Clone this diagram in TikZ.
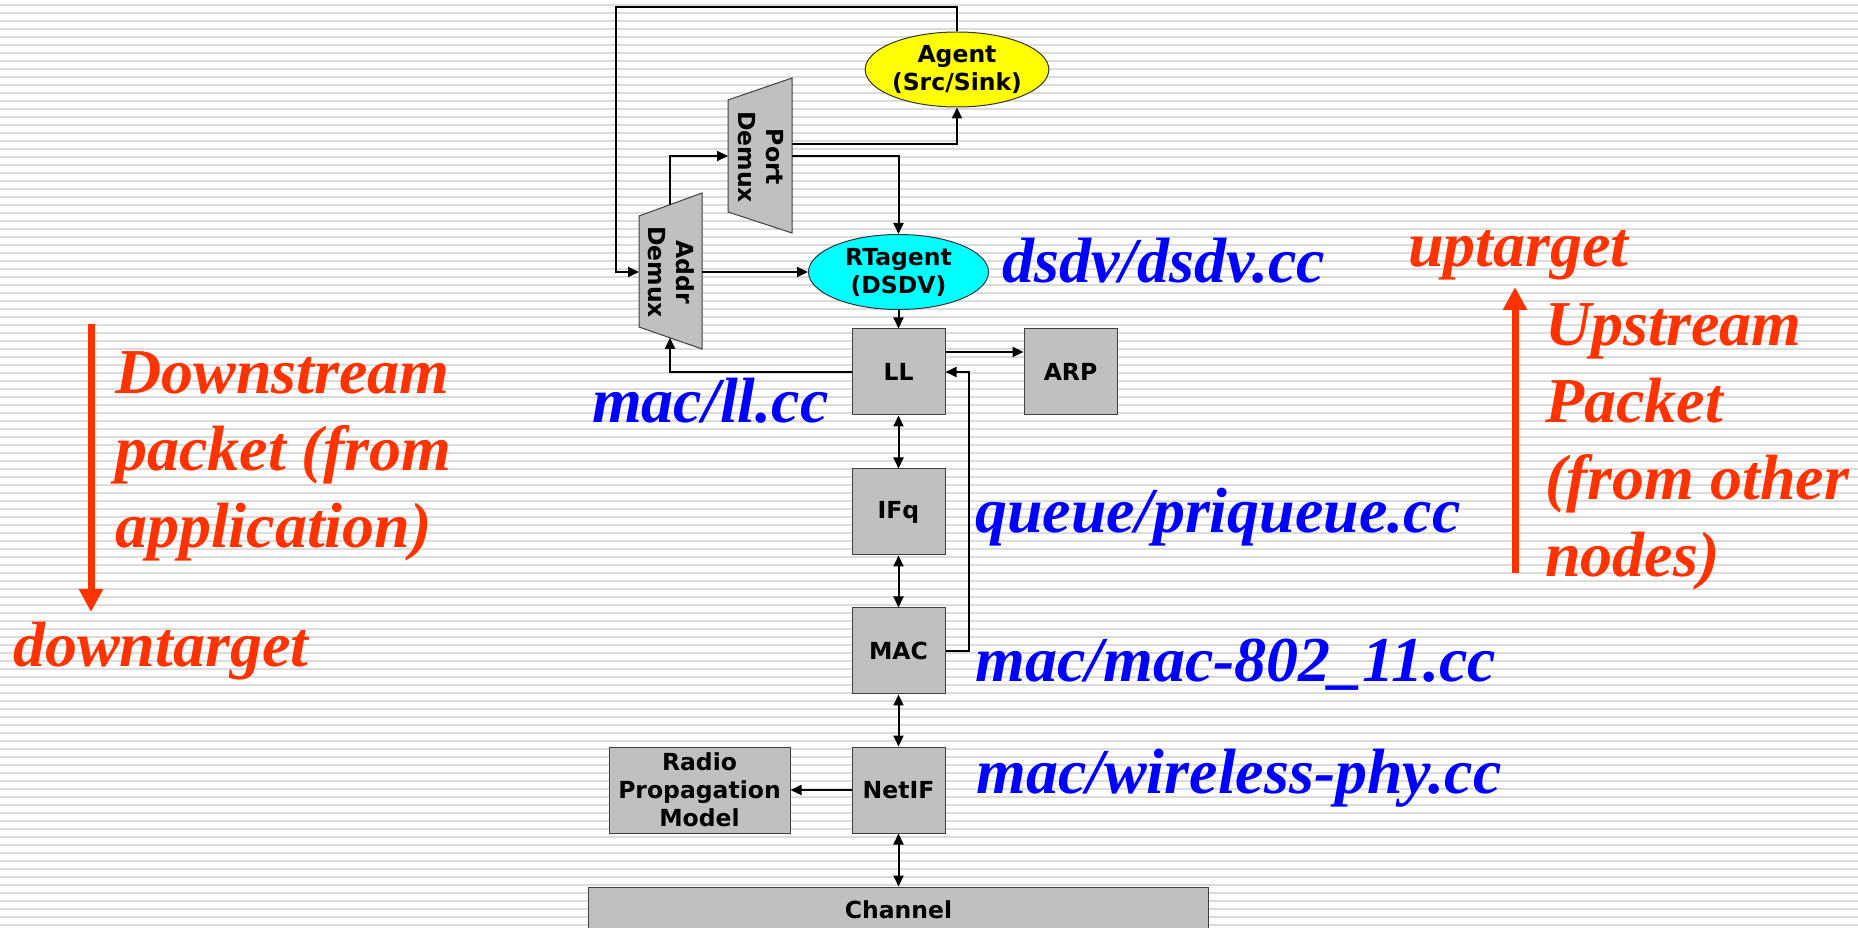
\documentclass[tikz,border=0pt]{standalone}
\usepackage{fontspec}
\setmainfont{Liberation Serif}
\newfontfamily\boxfont{DejaVu Sans}
\usetikzlibrary{positioning,arrows.meta,shapes.geometric}
\definecolor{BoxGray}{HTML}{C0C0C0}
\definecolor{RuleGray}{HTML}{DCDCDC}
\definecolor{FileBlue}{HTML}{0000FF}
\definecolor{FlowRed}{HTML}{FF3300}
\definecolor{AgentYellow}{HTML}{FFFF00}
\definecolor{RtCyan}{HTML}{00FFFF}

\tikzset{
  blk/.style={draw=black!75, line width=1pt, fill=BoxGray,
              minimum width=93pt, minimum height=86pt, inner sep=0pt,
              align=center, font=\boxfont\bfseries\fontsize{23.5}{28}\selectfont},
  oval/.style={ellipse, draw=black!80, line width=1pt,
               minimum width=180pt, minimum height=75pt, inner sep=0pt,
               align=center, font=\boxfont\bfseries\fontsize{23.5}{28}\selectfont},
  demux/.style={draw=black!75, line width=1pt, fill=BoxGray},
  link/.style={line width=2pt, -{Triangle[length=11pt,width=10pt]}},
  dlink/.style={line width=2pt,
                {Triangle[length=11pt,width=10pt]}-{Triangle[length=11pt,width=10pt]}},
  srcfile/.style={font=\bfseries\itshape\fontsize{64}{77}\selectfont,
                  text=FileBlue, inner sep=0pt, anchor=base west},
  flowtxt/.style={font=\bfseries\itshape\fontsize{64}{77}\selectfont,
                  text=FlowRed, inner sep=0pt, align=left, anchor=base west},
  flowarrow/.style={draw=FlowRed, line width=7pt,
                    -{Triangle[length=23pt,width=23pt]}}
}

\begin{document}
\begin{tikzpicture}[x=1pt, y=1pt]
  \useasboundingbox[fill=white] (0,0) rectangle (1858,927);
  % ruled background
  \foreach \k in {2,10,...,922}
    \draw[RuleGray, line width=2pt] (0,\k) -- (1858,\k);

  % demultiplexers
  \draw[demux] (728,827) -- (792,849) -- (792,694) -- (728,715) -- cycle;
  \node[rotate=-90, align=center, font=\boxfont\bfseries\fontsize{23.5}{28}\selectfont]
    (portdemux) at (761,770) {Port\\Demux};
  \draw[demux] (639,711) -- (702,734) -- (702,578) -- (639,600) -- cycle;
  \node[rotate=-90, align=center, font=\boxfont\bfseries\fontsize{23.5}{28}\selectfont]
    (addrdemux) at (671.5,655) {Addr\\Demux};
  \coordinate (portIn) at (728,771);
  \coordinate (portOutA) at (792,783);
  \coordinate (portOutB) at (792,771);
  \coordinate (addrIn) at (639,655);
  \coordinate (addrOut) at (702,655);
  \coordinate (addrTop) at (670,722.3);
  \coordinate (addrBot) at (670,589.2);

  % agents
  \node[oval, fill=AgentYellow] (agent) at (957,857.5) {Agent\\(Src/Sink)};
  \node[oval, fill=RtCyan] (rtagent) at (898.5,655) {RTagent\\(DSDV)};

  % protocol stack
  \node[blk] (ll) at (898.5,555) {LL};
  \node[blk, right=78pt of ll] (arp) {ARP};
  \node[blk, below=53pt of ll] (ifq) {IFq};
  \node[blk, below=52pt of ifq] (mac) {MAC};
  \node[blk, below=52pt of mac] (netif) {NetIF};
  \node[blk, left=61pt of netif, minimum width=181pt] (radio)
    {Radio\\Propagation\\Model};
  \node[blk, below=53pt of netif, minimum width=620pt, minimum height=46pt]
    (channel) {Channel};

  % connectors
  \draw[link] (agent.north) -- ++(0,24) -| ([xshift=-23pt]addrIn) -- (addrIn);
  \draw[link] (addrOut) -- (rtagent.west);
  \draw[link] (addrTop) |- (portIn);
  \draw[link] (portOutA) -| (agent.south);
  \draw[link] (portOutB) -| (rtagent.north);
  \draw[link] (rtagent.south) -- (ll.north);
  \draw[link] (ll.west) -| (addrBot);
  \draw[link] ([yshift=20pt]ll.east) -- ([yshift=20pt]arp.west);
  \draw[link] (mac.east) -- ++(23,0) |- (ll.east);
  \draw[dlink] (ll) -- (ifq);
  \draw[dlink] (ifq) -- (mac);
  \draw[dlink] (mac) -- (netif);
  \draw[link] (netif) -- (radio);
  \draw[dlink] (netif.south) -- (netif.south |- channel.north);

  % source files
  \node[srcfile] (llsrc) at (592,504) {mac/ll.cc};
  \node[srcfile] (dsdvsrc) at (1002,644) {dsdv/dsdv.cc};
  \node[srcfile] (ifqsrc) at (975,394) {queue/priqueue.cc};
  \node[srcfile] (macsrc) at (975,245) {mac/mac-802\_11.cc};
  \node[srcfile] (physrc) at (976,134) {mac/wireless-phy.cc};

  % packet flow
  \coordinate (downTail) at (91,603);
  \coordinate (downHead) at (91,315);
  \draw[flowarrow] (downTail) -- (downHead);
  \node[flowtxt] (downtxt) at (115,379) {Downstream\\packet (from\\application)};
  \node[flowtxt] (downtgt) at (13,260) {downtarget};
  \coordinate (upTail) at (1515,354);
  \coordinate (upHead) at (1515,640);
  \draw[flowarrow] (upTail) -- (upHead);
  \node[flowtxt] (uptgt) at (1408,660) {uptarget};
  \node[flowtxt] (uptxt) at (1545,350) {Upstream\\Packet\\(from other\\nodes)};
\end{tikzpicture}
\end{document}
